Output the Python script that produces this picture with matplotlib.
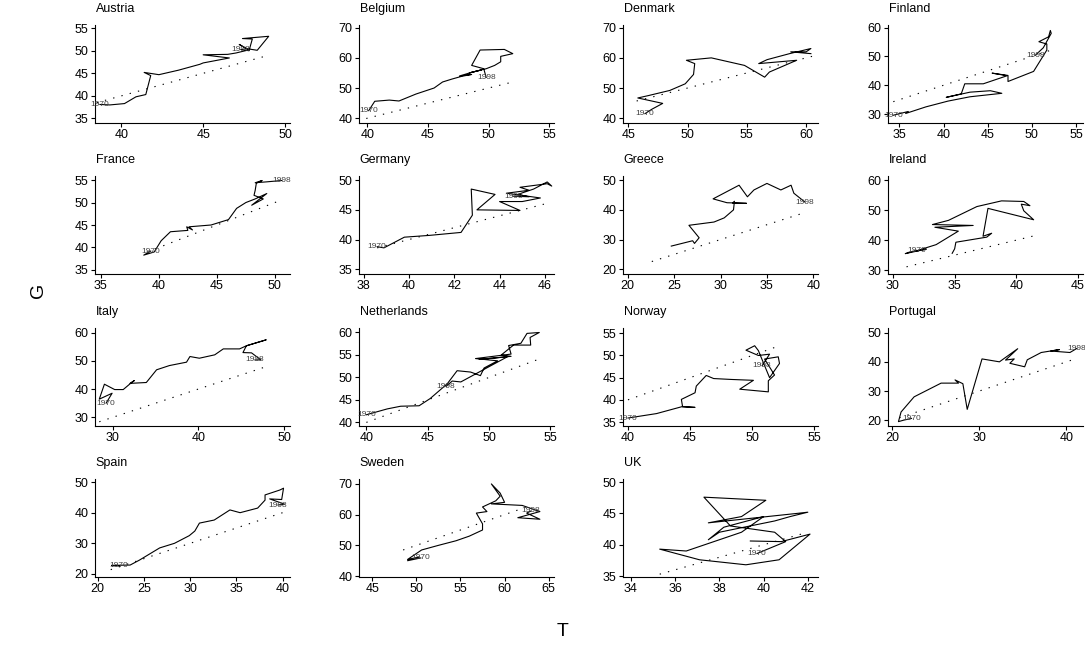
import matplotlib.pyplot as plt

plt.rcParams["font.family"] = ["Liberation Sans", "DejaVu Sans"]

countries = ["Austria", "Belgium", "Denmark", "Finland",
             "France", "Germany", "Greece", "Ireland",
             "Italy", "Netherlands", "Norway", "Portugal",
             "Spain", "Sweden", "UK"]

# T (revenue) and G (spending) paths
austria_t = [38.7, 39.3, 40.2, 40.9, 41.5, 41.8, 41.4, 42.3, 43.5, 44.8, 45.0, 46.6, 45.0,
             46.5, 47.0, 47.8, 47.2, 47.6, 48.3, 49.0, 47.4, 48.0, 47.8, 47.3]
austria_g = [38.1, 38.0, 38.3, 39.8, 40.3, 44.5, 45.2, 44.7, 45.7, 47.0, 47.3, 48.4, 49.1,
             49.2, 49.5, 50.2, 51.4, 50.5, 50.1, 53.2, 52.7, 52.6, 50.0, 50.3]
belgium_t = [40.1, 40.6, 41.8, 42.6, 44.0, 45.5, 46.2, 47.0, 47.8, 48.6, 47.6, 48.6,
             49.4, 48.4, 49.8, 50.5, 51.0, 51.0, 52.0, 51.3, 49.3, 48.6, 49.6, 49.8]
belgium_g = [42.5, 45.6, 46.0, 45.7, 48.0, 50.0, 52.0, 53.0, 53.9, 54.5, 54.0, 55.2,
             56.0, 55.0, 56.4, 57.5, 58.7, 60.5, 61.4, 62.8, 62.6, 57.5, 56.4, 53.5]
denmark_t = [46.4, 47.0, 47.9, 45.8, 46.7, 48.5, 49.8, 50.5, 50.6, 49.9, 52.0, 54.8, 56.5,
             56.9, 59.2, 56.0, 56.7, 58.6, 60.4, 60.0, 58.7, 60.4]
denmark_g = [41.5, 43.0, 44.9, 46.7, 47.5, 49.2, 51.4, 54.5, 58.1, 59.2, 60.0, 57.5, 53.6,
             55.3, 59.2, 58.1, 59.4, 61.4, 63.1, 62.0, 62.0, 61.4]
finland_t = [34.3, 36.0, 35.7, 38.0, 40.5, 43.0, 46.6, 45.3, 43.0, 40.3, 42.0, 42.4, 44.5,
             47.2, 45.5, 47.3, 47.3, 50.2, 51.7, 51.7, 50.8, 51.9, 52.1, 52.2, 51.3, 50.4]
finland_g = [29.6, 30.9, 30.2, 32.5, 34.5, 36.0, 37.2, 38.1, 37.6, 35.8, 37.0, 40.5, 40.5,
             43.3, 44.2, 43.4, 41.3, 44.8, 52.2, 54.3, 55.1, 56.8, 59.0, 58.0, 53.0, 50.4]
france_t = [39.3, 38.7, 39.6, 40.2, 41.0, 42.5, 42.4, 42.9, 42.6, 44.5, 46.0, 46.7, 47.5,
            48.3, 49.3, 48.0, 49.0, 48.2, 48.3, 48.4, 48.9, 48.3, 49.3, 50.6]
france_g = [39.2, 38.3, 39.0, 41.5, 43.5, 43.8, 44.6, 43.9, 44.6, 45.0, 46.2, 48.7, 50.0,
            50.8, 52.0, 49.4, 50.8, 51.6, 52.7, 54.3, 54.9, 54.4, 54.6, 54.9]
germany_t = [38.6, 38.9, 39.2, 39.8, 40.9, 42.3, 42.8, 42.75, 43.8, 43.0, 44.9, 44.0, 45.0,
             45.8, 44.3, 45.3, 44.9, 46.1, 46.3, 46.1, 45.5, 44.8, 45.3, 44.6]
germany_g = [38.8, 38.6, 39.2, 40.4, 40.7, 41.2, 44.1, 48.5, 47.6, 45.0, 44.9, 46.4, 46.4,
             47.0, 47.8, 48.3, 48.8, 49.4, 49.0, 49.7, 48.5, 47.6, 47.2, 47.3]
greece_t = [24.7, 27.0, 27.2, 27.7, 26.6, 29.3, 30.4, 31.4, 31.5, 31.3, 32.8, 30.7, 29.2,
            32.0, 32.9, 33.6, 35.0, 36.5, 37.6, 37.9, 39.1]
greece_g = [27.8, 29.6, 28.7, 30.6, 34.8, 35.9, 37.3, 40.0, 42.9, 42.3, 42.2, 42.4, 43.7,
            48.3, 44.4, 46.7, 48.9, 46.7, 48.3, 45.6, 42.6]
ireland_t = [31.9, 31.0, 32.7, 31.8, 33.5, 35.3, 33.4, 36.5, 33.2, 34.5, 36.8, 38.8, 40.6,
             41.1, 40.4, 40.6, 41.4, 37.7, 37.3, 38.0, 37.6, 35.1, 35.0, 34.8]
ireland_g = [36.6, 35.5, 37.0, 36.3, 38.5, 43.0, 44.3, 44.9, 45.2, 46.6, 51.2, 53.1, 52.9,
             51.5, 52.0, 49.8, 46.8, 50.6, 41.3, 42.3, 41.0, 39.3, 37.1, 35.6]
italy_t = [29.2, 29.9, 28.4, 29.0, 30.2, 31.2, 32.1, 32.5, 32.0, 33.9, 35.1, 36.6, 38.6,
           39.0, 40.1, 41.9, 42.9, 44.8, 45.6, 47.9, 45.6, 45.2, 46.2, 47.3, 46.6]
italy_g = [35.0, 38.5, 36.4, 41.7, 39.8, 39.8, 42.1, 43.0, 42.0, 42.3, 46.8, 48.3, 49.5,
           51.5, 50.9, 52.1, 54.2, 54.2, 55.3, 57.4, 55.3, 52.9, 52.8, 50.3, 50.3]
netherlands_t = [40.0, 41.7, 42.8, 44.3, 45.2, 46.6, 47.4, 48.5, 49.3, 49.6, 50.7, 48.9,
                 51.8, 51.6, 52.6, 53.1, 54.1, 53.35, 53.4, 52.0, 51.0, 51.8, 49.2, 51.5,
                 47.7, 47.0, 46.5]
netherlands_g = [41.7, 43.0, 43.6, 43.7, 45.3, 48.6, 51.5, 51.2, 50.4, 52.1, 53.7, 54.2,
                 55.2, 57.1, 57.6, 59.8, 60.0, 58.9, 57.2, 57.2, 55.0, 54.7, 54.0, 54.6,
                 49.0, 49.2, 48.0]
norway_t = [40.0, 42.3, 44.4, 45.4, 44.4, 44.3, 45.4, 45.5, 46.3, 46.9, 48.3, 50.1, 49.0,
            51.3, 51.3, 51.8, 51.0, 52.1, 52.2, 51.4, 50.5, 50.2, 49.5, 50.5, 51.4, 50.8]
norway_g = [35.9, 36.9, 38.5, 38.3, 38.4, 40.1, 41.6, 43.1, 45.5, 44.8, 44.6, 44.4, 42.4,
            41.8, 44.3, 45.6, 49.2, 49.7, 48.2, 45.0, 51.1, 52.2, 51.2, 50.0, 50.3, 47.7]
portugal_t = [22.2, 21.3, 20.7, 21.0, 22.5, 25.6, 27.6, 27.2, 28.1, 28.6, 30.3, 32.3, 34.4,
              33.0, 34.0, 33.5, 35.2, 35.5, 37.1, 39.2, 38.2, 40.4, 41.2]
portugal_g = [20.6, 20.0, 19.5, 22.8, 28.0, 32.7, 32.7, 33.8, 32.5, 23.7, 41.0, 40.0, 44.5,
              40.6, 41.0, 39.5, 38.3, 40.7, 43.2, 44.2, 43.7, 43.2, 44.6]
spain_t = [22.3, 21.5, 23.5, 24.5, 25.6, 26.7, 28.3, 29.9, 30.5, 31.0, 32.6, 34.3, 35.4,
           37.3, 38.1, 38.1, 39.7, 40.1, 39.9, 38.6, 40.2, 39.5]
spain_g = [22.6, 22.8, 22.9, 24.5, 26.5, 28.5, 30.0, 32.5, 34.0, 36.6, 37.6, 40.9, 40.0,
           41.5, 44.1, 45.8, 47.4, 48.0, 44.3, 44.5, 42.8, 42.5]
sweden_t = [50.5, 49.0, 50.3, 49.0, 50.6, 52.5, 54.5, 56.0, 57.5, 57.5, 56.8, 58.0, 57.5,
            59.0, 59.5, 58.5, 59.5, 60.0, 58.5, 62.0, 64.0, 61.5, 64.0, 62.5, 63.0]
sweden_g = [45.9, 45.0, 46.2, 45.4, 48.5, 50.0, 51.5, 53.0, 55.0, 57.0, 60.5, 61.0, 62.5,
            64.5, 66.0, 70.0, 67.0, 64.0, 63.5, 63.0, 61.0, 59.0, 58.5, 60.5, 61.2]
uk_t = [39.7, 41.0, 40.5, 38.5, 37.3, 40.1, 39.0, 37.5, 41.5, 42.0, 41.2, 40.5, 38.0, 37.5,
        38.2, 40.0, 39.0, 36.5, 35.3, 37.1, 39.2, 40.7, 42.1, 40.8, 39.4]
uk_g = [38.6, 40.5, 42.0, 43.0, 47.6, 47.1, 44.5, 43.5, 45.0, 45.2, 44.5, 43.8, 42.0, 40.8,
        42.8, 44.5, 42.0, 39.0, 39.3, 37.6, 36.8, 37.6, 41.7, 40.5, 40.6]

series_t = [austria_t, belgium_t, denmark_t, finland_t, france_t, germany_t, greece_t,
            ireland_t, italy_t, netherlands_t, norway_t, portugal_t, spain_t, sweden_t, uk_t]
series_g = [austria_g, belgium_g, denmark_g, finland_g, france_g, germany_g, greece_g,
            ireland_g, italy_g, netherlands_g, norway_g, portugal_g, spain_g, sweden_g, uk_g]

# 45-degree reference line, start and end of T
diag_lo = [38.5, 39.9, 45.7, 34.3, 39.0, 38.6, 22.6, 31.1, 28.4, 40.0, 40.0, 20.8, 21.4, 48.5, 35.3]
diag_hi = [49.0, 51.8, 60.6, 52.2, 50.6, 46.2, 39.0, 41.5, 47.9, 54.1, 52.1, 40.8, 40.3, 63.0, 42.0]

show_1970 = [True, True, True, True, True, True, False, True, True, True, True, True, True, True, True]
show_1998 = [True, True, False, True, True, True, True, False, True, True, True, True, True, True, False]

xticks = [[40, 45, 50], [40, 45, 50, 55], [45, 50, 55, 60], [35, 40, 45, 50, 55],
          [35, 40, 45, 50], [38, 40, 42, 44, 46], [20, 25, 30, 35, 40], [30, 35, 40, 45],
          [30, 40, 50], [40, 45, 50, 55], [40, 45, 50, 55], [20, 30, 40],
          [20, 25, 30, 35, 40], [45, 50, 55, 60, 65], [34, 36, 38, 40, 42]]
yticks = [[35, 40, 45, 50, 55], [40, 50, 60, 70], [40, 50, 60, 70], [30, 40, 50, 60],
          [35, 40, 45, 50, 55], [35, 40, 45, 50], [20, 30, 40, 50], [30, 40, 50, 60],
          [30, 40, 50, 60], [40, 45, 50, 55, 60], [35, 40, 45, 50, 55], [20, 30, 40, 50],
          [20, 30, 40, 50], [40, 50, 60, 70], [35, 40, 45, 50]]
xlims = [(38.4, 50.3), (39.3, 55.4), (44.55, 61.0), (33.7, 55.8),
         (34.5, 51.3), (37.8, 46.4), (19.5, 40.5), (29.6, 45.4),
         (27.9, 50.7), (39.4, 55.3), (39.6, 55.3), (19.5, 41.9),
         (19.7, 40.8), (43.5, 65.6), (33.64, 42.46)]
ylims = [(34.0, 55.7), (38.4, 70.9), (38.4, 70.9), (26.9, 60.9),
         (34.1, 55.9), (34.2, 50.7), (18.4, 51.4), (28.7, 61.4),
         (26.9, 61.6), (39.2, 61.0), (34.1, 56.2), (18.0, 51.6),
         (19.0, 51.0), (39.7, 71.6), (34.85, 50.5)]

W, H = 1085, 648
fig = plt.figure(figsize=(W / 100, H / 100), dpi=100)
col_left = [95, 359, 623, 888]
row_top = [25, 176, 328, 479]
aw, ah = 195, 98

for i, name in enumerate(countries):
    r, c = divmod(i, 4)
    ax = fig.add_axes([col_left[c] / W, 1 - (row_top[r] + ah) / H, aw / W, ah / H])
    t, g = series_t[i], series_g[i]
    ax.plot([diag_lo[i], diag_hi[i]], [diag_lo[i], diag_hi[i]], color="black",
            lw=0.8, linestyle=(0, (1.2, 6.5)))
    ax.plot(t, g, color="black", lw=0.8)
    if show_1970[i]:
        ax.text(t[0], g[0], "1970", fontsize=6, color="#404040", ha="center", va="center")
    if show_1998[i]:
        ax.text(t[-1], g[-1], "1998", fontsize=6, color="#404040", ha="center",
                va="center", clip_on=False)
    ax.set_xlim(*xlims[i])
    ax.set_ylim(*ylims[i])
    ax.set_xticks(xticks[i])
    ax.set_yticks(yticks[i])
    ax.spines["top"].set_visible(False)
    ax.spines["right"].set_visible(False)
    for s in ("left", "bottom"):
        ax.spines[s].set_linewidth(0.8)
    ax.tick_params(labelsize=9, length=3, width=0.8, pad=1.5)
    ax.annotate(name, xy=(0, 1), xycoords="axes fraction", xytext=(0.5, 9.5),
                textcoords="offset points", ha="left", va="baseline", fontsize=9)

fig.text(38 / W, 1 - 290 / H, "G", rotation=90, fontsize=14, ha="center", va="center")
fig.text(563 / W, 1 - 632 / H, "T", fontsize=14, ha="center", va="center")

plt.savefig("out.png", dpi=100)
